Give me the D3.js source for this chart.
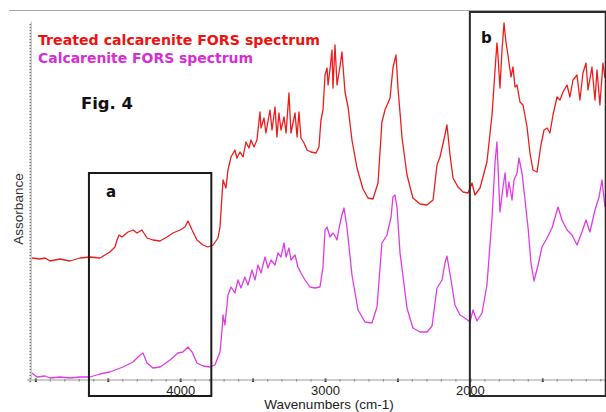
<!DOCTYPE html>
<html>
<head>
<meta charset="utf-8">
<script src="https://cdn.jsdelivr.net/npm/d3@7"></script>
<style>
  body { margin: 0; background: #fff; }
  svg { display: block; }
</style>
</head>
<body>
<svg id="chart" width="606" height="412"></svg>
<script>
// FORS spectra: [wavenumber (cm-1), absorbance]
const treatedSpectrum = [
  [5023,1.23],[4968,1.22],[4933,1.23],[4899,1.20],[4864,1.21],[4830,1.22],[4761,1.20],[4692,1.23],
  [4623,1.24],[4554,1.23],[4519,1.26],[4485,1.29],[4450,1.34],[4436,1.41],[4422,1.46],[4402,1.44],
  [4360,1.49],[4326,1.51],[4298,1.48],[4264,1.51],[4229,1.43],[4188,1.41],[4139,1.40],[4091,1.44],
  [4050,1.48],[4001,1.51],[3967,1.54],[3946,1.60],[3918,1.51],[3884,1.41],[3843,1.36],[3808,1.34],
  [3773,1.36],[3739,1.43],[3725,1.54],[3711,1.86],[3704,2.01],[3684,1.93],[3670,2.11],[3649,2.24],
  [3622,2.31],[3608,2.23],[3587,2.29],[3566,2.24],[3546,2.39],[3525,2.33],[3511,2.41],[3490,2.34],
  [3470,2.41],[3449,2.69],[3442,2.53],[3421,2.63],[3408,2.48],[3380,2.71],[3366,2.51],[3345,2.74],
  [3332,2.44],[3318,2.68],[3304,2.51],[3283,2.64],[3269,2.48],[3249,2.88],[3235,2.48],[3221,2.58],
  [3207,2.68],[3193,2.44],[3180,2.69],[3166,2.43],[3145,2.38],[3124,2.31],[3097,2.29],[3062,2.28],
  [3042,2.34],[3028,2.61],[3014,2.71],[3000,3.06],[2986,3.13],[2979,2.96],[2966,3.11],[2952,3.31],
  [2945,2.93],[2931,3.36],[2917,2.96],[2897,3.14],[2883,3.29],[2862,2.89],[2841,2.74],[2814,2.41],
  [2779,2.13],[2738,1.92],[2703,1.83],[2669,1.82],[2634,1.98],[2607,2.59],[2586,2.71],[2551,2.83],
  [2531,3.13],[2510,3.26],[2496,2.93],[2468,2.43],[2434,2.06],[2393,1.83],[2344,1.77],[2296,1.76],
  [2254,1.81],[2227,2.16],[2206,2.24],[2172,2.46],[2158,2.56],[2137,2.26],[2116,2.03],[2082,1.94],
  [2047,1.89],[2013,1.88],[1985,1.98],[1965,1.86],[1930,1.93],[1882,2.19],[1847,2.66],[1826,3.11],
  [1813,3.38],[1806,3.26],[1792,2.93],[1778,3.31],[1764,3.58],[1750,3.38],[1737,3.26],[1716,3.04],
  [1702,3.14],[1688,2.94],[1674,2.96],[1654,2.79],[1633,2.76],[1605,2.54],[1585,2.28],[1564,2.11],
  [1536,2.09],[1509,2.36],[1488,2.51],[1467,2.53],[1447,2.48],[1426,2.66],[1398,2.84],[1378,2.81],
  [1357,2.89],[1329,2.96],[1309,2.84],[1288,3.01],[1260,3.06],[1240,2.81],[1219,3.08],[1198,3.18],
  [1184,2.91],[1157,3.14],[1136,2.81],[1122,3.11],[1102,2.76],[1081,3.18],[1067,3.03]
];

const untreatedSpectrum = [
  [5023,0.08],[4989,0.04],[4933,0.05],[4899,0.03],[4830,0.04],[4761,0.03],[4692,0.04],[4623,0.04],
  [4554,0.07],[4485,0.09],[4395,0.14],[4326,0.19],[4277,0.26],[4257,0.28],[4229,0.18],[4188,0.13],
  [4139,0.14],[4070,0.21],[4015,0.28],[3981,0.29],[3946,0.34],[3918,0.29],[3884,0.18],[3843,0.15],
  [3794,0.14],[3760,0.16],[3725,0.29],[3711,0.51],[3704,0.66],[3691,0.56],[3670,0.86],[3649,0.94],
  [3622,0.88],[3601,1.01],[3580,0.93],[3553,1.04],[3532,0.96],[3504,1.11],[3483,1.01],[3463,1.16],
  [3442,1.08],[3414,1.24],[3394,1.13],[3373,1.21],[3345,1.16],[3325,1.28],[3304,1.24],[3283,1.38],
  [3269,1.24],[3249,1.33],[3235,1.21],[3207,1.26],[3187,1.14],[3166,1.08],[3138,1.01],[3104,0.94],
  [3069,0.93],[3035,0.94],[3014,1.14],[3000,1.51],[2986,1.54],[2966,1.44],[2945,1.48],[2931,1.45],
  [2917,1.41],[2903,1.53],[2883,1.66],[2869,1.73],[2848,1.53],[2814,1.06],[2772,0.71],[2724,0.59],
  [2676,0.58],[2641,0.74],[2607,1.38],[2572,1.46],[2544,1.64],[2531,1.84],[2517,1.86],[2503,1.74],
  [2482,1.28],[2434,0.73],[2393,0.53],[2344,0.49],[2296,0.49],[2261,0.55],[2227,0.93],[2192,1.01],
  [2172,1.18],[2158,1.25],[2130,1.01],[2103,0.76],[2068,0.66],[2034,0.63],[1999,0.59],[1978,0.71],
  [1951,0.60],[1916,0.68],[1882,0.96],[1847,1.63],[1826,2.19],[1813,2.39],[1806,2.16],[1792,1.69],
  [1771,1.94],[1757,2.08],[1744,1.84],[1730,1.99],[1709,1.81],[1695,2.01],[1674,2.08],[1661,2.23],
  [1640,2.08],[1619,1.81],[1598,1.53],[1578,1.18],[1557,1.00],[1529,1.16],[1502,1.34],[1467,1.43],
  [1433,1.53],[1391,1.74],[1364,1.61],[1329,1.51],[1295,1.46],[1260,1.36],[1226,1.49],[1198,1.61],
  [1171,1.49],[1136,1.71],[1108,1.84],[1088,2.01],[1067,1.74]
];

const wavenumberDomain = [5030, 1060];
const absorbanceDomain = [0, 3.6];
const labelledTicks = [4000, 3000, 2000];
const legendLabels = ["Treated calcarenite FORS spectrum", "Calcarenite FORS spectrum"];
// highlighted spectral windows (cm-1)
const regionA = [4630, 3785];
const regionB = [2000, 1062];

const svg = d3.select("#chart");
const x = d3.scaleLinear().domain(wavenumberDomain).range([31, 606]);
const y = d3.scaleLinear().domain(absorbanceDomain).range([381, 21]);

// thin frame line along the top
svg.append("line").attr("x1", 9).attr("x2", 606).attr("y1", 10.5).attr("y2", 10.5)
  .attr("stroke", "#a8a8a8").attr("stroke-width", 1.2);

// bottom axis: minor ticks every 100 cm-1, labels at 1000s
const xAxis = d3.axisBottom(x)
  .tickValues(d3.range(1100, 5001, 100))
  .tickSize(2).tickSizeOuter(0)
  .tickFormat(d => labelledTicks.includes(d) ? d : "");
const gx = svg.append("g").attr("transform", "translate(0,380)").call(xAxis);
gx.select(".domain").remove();
gx.selectAll(".tick line").attr("stroke", d => d % 500 === 0 ? "#333" : "#888")
  .attr("y1", d => d % 500 === 0 ? -1.5 : -1).attr("y2", d => d % 500 === 0 ? 2 : 1.5)
  .attr("stroke-width", d => d % 500 === 0 ? 2 : 1.2);
gx.selectAll(".tick text").attr("y", 15).attr("dy", 0)
  .attr("font-family", "'Liberation Sans', Arial, sans-serif").attr("font-size", 13)
  .attr("fill", "#222");
svg.append("line").attr("x1", 27).attr("x2", 606).attr("y1", 380).attr("y2", 380)
  .attr("stroke", "#9a9a9a").attr("stroke-width", 1);

// left axis drawn as a dense dotted scale
const yAxis = d3.axisLeft(y).tickValues(d3.range(0.0, 3.59, 0.03)).tickSize(1.5).tickFormat("").tickSizeOuter(0);
const gy = svg.append("g").attr("transform", "translate(31,0)").call(yAxis);
gy.select(".domain").attr("stroke", "#c8c8c8");
gy.selectAll(".tick line").attr("stroke", "#777").attr("stroke-width", 1.3);

// axis titles
svg.append("text").attr("x", 329).attr("y", 408.5).attr("text-anchor", "middle")
  .attr("font-family", "'Liberation Sans', Arial, sans-serif").attr("font-size", 13.5)
  .attr("fill", "#222").text("Wavenumbers (cm-1)");
svg.append("text").attr("transform", "translate(23,209) rotate(-90)").attr("text-anchor", "middle")
  .attr("font-family", "'Liberation Sans', Arial, sans-serif").attr("font-size", 13.5)
  .attr("fill", "#333").text("Assorbance");

// spectra
const line = d3.line().x(d => x(d[0])).y(d => y(d[1]));
svg.append("path").datum(untreatedSpectrum).attr("d", line)
  .attr("fill", "none").attr("stroke", "#e03ce6").attr("stroke-width", 1.3).attr("stroke-linejoin", "round");
svg.append("path").datum(treatedSpectrum).attr("d", line)
  .attr("fill", "none").attr("stroke", "#ee1c1c").attr("stroke-width", 1.3).attr("stroke-linejoin", "round");

// highlighted windows
svg.append("rect").attr("x", x(regionA[0])).attr("y", 173)
  .attr("width", x(regionA[1]) - x(regionA[0])).attr("height", 223)
  .attr("fill", "none").attr("stroke", "#1a1a1a").attr("stroke-width", 2);
svg.append("rect").attr("x", x(regionB[0])).attr("y", 12)
  .attr("width", x(regionB[1]) - x(regionB[0])).attr("height", 384)
  .attr("fill", "none").attr("stroke", "#2a2a2a").attr("stroke-width", 2);

const bold = "'DejaVu Sans', Verdana, sans-serif";
svg.append("text").attr("x", 106).attr("y", 197).attr("font-family", bold)
  .attr("font-weight", "bold").attr("font-size", 15).attr("fill", "#111").text("a");
svg.append("text").attr("x", 481).attr("y", 43).attr("font-family", bold)
  .attr("font-weight", "bold").attr("font-size", 15).attr("fill", "#111").text("b");

// legend and figure label
svg.append("text").attr("x", 38).attr("y", 45).attr("font-family", bold)
  .attr("font-weight", "bold").attr("font-size", 14.5).attr("fill", "#ee1111")
  .attr("textLength", 282).attr("lengthAdjust", "spacingAndGlyphs").text(legendLabels[0]);
svg.append("text").attr("x", 38).attr("y", 63).attr("font-family", bold)
  .attr("font-weight", "bold").attr("font-size", 14.5).attr("fill", "#d62ed6")
  .attr("textLength", 215).attr("lengthAdjust", "spacingAndGlyphs").text(legendLabels[1]);
svg.append("text").attr("x", 81).attr("y", 109).attr("font-family", bold)
  .attr("font-weight", "bold").attr("font-size", 16).attr("fill", "#111")
  .attr("textLength", 52).attr("lengthAdjust", "spacingAndGlyphs").text("Fig. 4");
</script>
</body>
</html>
